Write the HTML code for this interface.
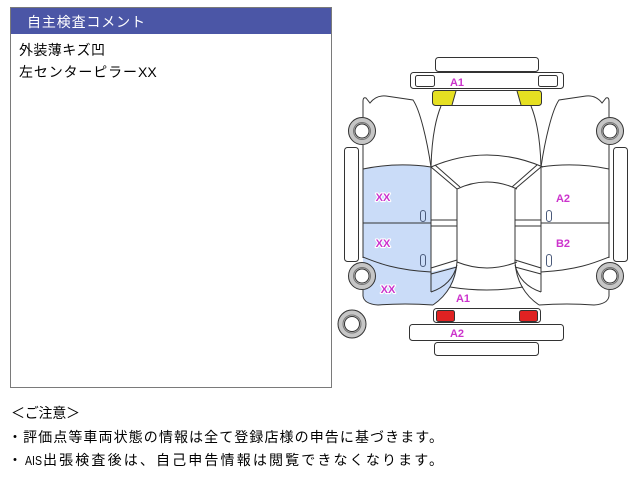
<!DOCTYPE html>
<html><head><meta charset="utf-8"><style>
html,body{margin:0;padding:0;background:#fff;}
svg{display:block;}
.j{font-family:"Liberation Sans","Noto Sans CJK JP",sans-serif;font-size:14px;fill:#000;}
.l{font-family:"Liberation Sans",sans-serif;font-weight:bold;font-size:11px;fill:#cc33cc;stroke:#fff;stroke-width:2.2px;paint-order:stroke;stroke-linejoin:round;text-anchor:middle;}
.o{fill:none;stroke:#333;stroke-width:1;}
</style></head><body>
<svg width="640" height="480" viewBox="0 0 640 480" xmlns="http://www.w3.org/2000/svg">
<!-- comment panel -->
<rect x="10.5" y="7.5" width="321" height="380" fill="#fff" stroke="#7a7a7a"/>
<rect x="11" y="8" width="320" height="26" fill="#4b56a6"/>
<text class="j" x="27" y="27" style="fill:#fff" textLength="118" lengthAdjust="spacing">自主検査コメント</text>
<text class="j" x="19" y="55" textLength="86" lengthAdjust="spacing">外装薄キズ凹</text>
<text class="j" x="19" y="77" textLength="118" lengthAdjust="spacing">左センターピラー</text>
<text x="138" y="77" style="font-family:'Liberation Sans',sans-serif;font-size:14px;fill:#000">XX</text>

<!-- notes -->
<text class="j" x="11" y="418" textLength="69" lengthAdjust="spacing">＜ご注意＞</text>
<text class="j" x="8" y="442" textLength="435" lengthAdjust="spacing">・評価点等車両状態の情報は全て登録店様の申告に基づきます。</text>
<text class="j" x="8" y="465">・</text>
<text x="25" y="465" style="font-family:'Liberation Sans',sans-serif;font-size:13px;fill:#000" textLength="17" lengthAdjust="spacingAndGlyphs">AIS</text>
<text class="j" x="43" y="465" textLength="400" lengthAdjust="spacing">出張検査後は、自己申告情報は閲覧できなくなります。</text>

<!-- car diagram -->
<defs>
<g id="half">
  <path class="o" d="M363,117 L363,101 Q363,97 366,98 L370,103 Q376,95 386,96 L413,100 C420,110 427,140 431,167"/>
  <path class="o" d="M441,106 Q432,128 431,167"/>
  <rect x="344.5" y="147.5" width="14" height="114" rx="3" fill="#fff" stroke="#333"/>
  <path class="o" d="M363,145 L363,258"/>
  <path class="o" d="M363,169 Q397,162 431,167"/>
  <path class="o" d="M363,223 L431,223"/>
  <path class="o" d="M363,257 C378,263 395,270 431,272"/>
  <path class="o" d="M431,167 L431,292"/>
  <path class="o" d="M363,290 L363,296 Q364,304 378,305 Q405,303 433,305"/>
  <path class="o" d="M457,262 Q455,290 433,305"/>
  <path class="o" d="M457,265 Q452,285 431,292"/>
  <path class="o" d="M431,167 L457,189 M435,165 L460,187"/>
  <path class="o" d="M431,220 L457,220 M431,226 L457,226"/>
  <path class="o" d="M431,268 L457,260 M431,274 L457,267"/>
  <path class="o" d="M457,189 L457,262"/>
  <rect x="420.5" y="210.5" width="5" height="11" rx="2.5" fill="none" stroke="#4a5a7a"/>
  <rect x="420.5" y="254.5" width="5" height="12" rx="2.5" fill="none" stroke="#4a5a7a"/>
  <g>
    <circle cx="362" cy="131" r="13.5" fill="#c6c6c6" stroke="#333"/>
    <circle cx="362" cy="131" r="8.5" fill="none" stroke="#777"/>
    <circle cx="362" cy="131" r="7" fill="#fff" stroke="#333"/>
  </g>
  <g>
    <circle cx="362" cy="276" r="13.5" fill="#c6c6c6" stroke="#333"/>
    <circle cx="362" cy="276" r="8.5" fill="none" stroke="#777"/>
    <circle cx="362" cy="276" r="7" fill="#fff" stroke="#333"/>
  </g>
</g>
</defs>

<path d="M363,169 Q397,162 431,167 L431,272 L457,266 Q455,290 433,305 Q405,303 378,305 Q364,304 363,296 Z" fill="#cadcf8"/>
<path d="M431,167 L457,189 L457,260 L431,268 Z" fill="#fff"/>

<use href="#half"/>
<use href="#half" transform="translate(972,0) scale(-1,1)"/>

<path class="o" d="M431,167 Q487,143 543,167"/>
<path class="o" d="M457,189 Q487,175 517,189"/>
<path class="o" d="M457,262 Q487,274 517,262"/>
<path class="o" d="M450,287 Q487,293 523,287"/>

<rect x="435.5" y="57.5" width="103" height="14" rx="3" fill="#fff" stroke="#333"/>
<rect x="410.5" y="72.5" width="153" height="16" rx="3" fill="#fff" stroke="#333"/>
<rect x="415.5" y="75.5" width="19" height="11" rx="2" fill="#fff" stroke="#333"/>
<rect x="538.5" y="75.5" width="19" height="11" rx="2" fill="#fff" stroke="#333"/>

<rect x="432.5" y="90.5" width="109" height="15" rx="3" fill="#e6e022"/>
<polygon points="456,91 517,91 521,105 452,105" fill="#fff"/>
<rect x="432.5" y="90.5" width="109" height="15" rx="3" fill="none" stroke="#333"/>
<path class="o" d="M456,91 L452,105 M517,91 L521,105"/>

<rect x="433.5" y="308.5" width="107" height="14" rx="3" fill="#fff" stroke="#333"/>
<rect x="436.5" y="310.5" width="18" height="11" rx="2" fill="#e02222" stroke="#333"/>
<rect x="519.5" y="310.5" width="18" height="11" rx="2" fill="#e02222" stroke="#333"/>
<rect x="409.5" y="324.5" width="154" height="16" rx="3" fill="#fff" stroke="#333"/>
<rect x="434.5" y="342.5" width="104" height="13" rx="3" fill="#fff" stroke="#333"/>

<circle cx="352" cy="324" r="14" fill="#c6c6c6" stroke="#333"/>
<circle cx="352" cy="324" r="9" fill="none" stroke="#777"/>
<circle cx="352" cy="324" r="7.5" fill="#fff" stroke="#333"/>

<text class="l" x="457" y="86">A1</text>
<text class="l" x="383" y="201">XX</text>
<text class="l" x="383" y="247">XX</text>
<text class="l" x="388" y="293">XX</text>
<text class="l" x="563" y="202">A2</text>
<text class="l" x="563" y="247">B2</text>
<text class="l" x="463" y="302">A1</text>
<text class="l" x="457" y="337">A2</text>
</svg>
</body></html>
